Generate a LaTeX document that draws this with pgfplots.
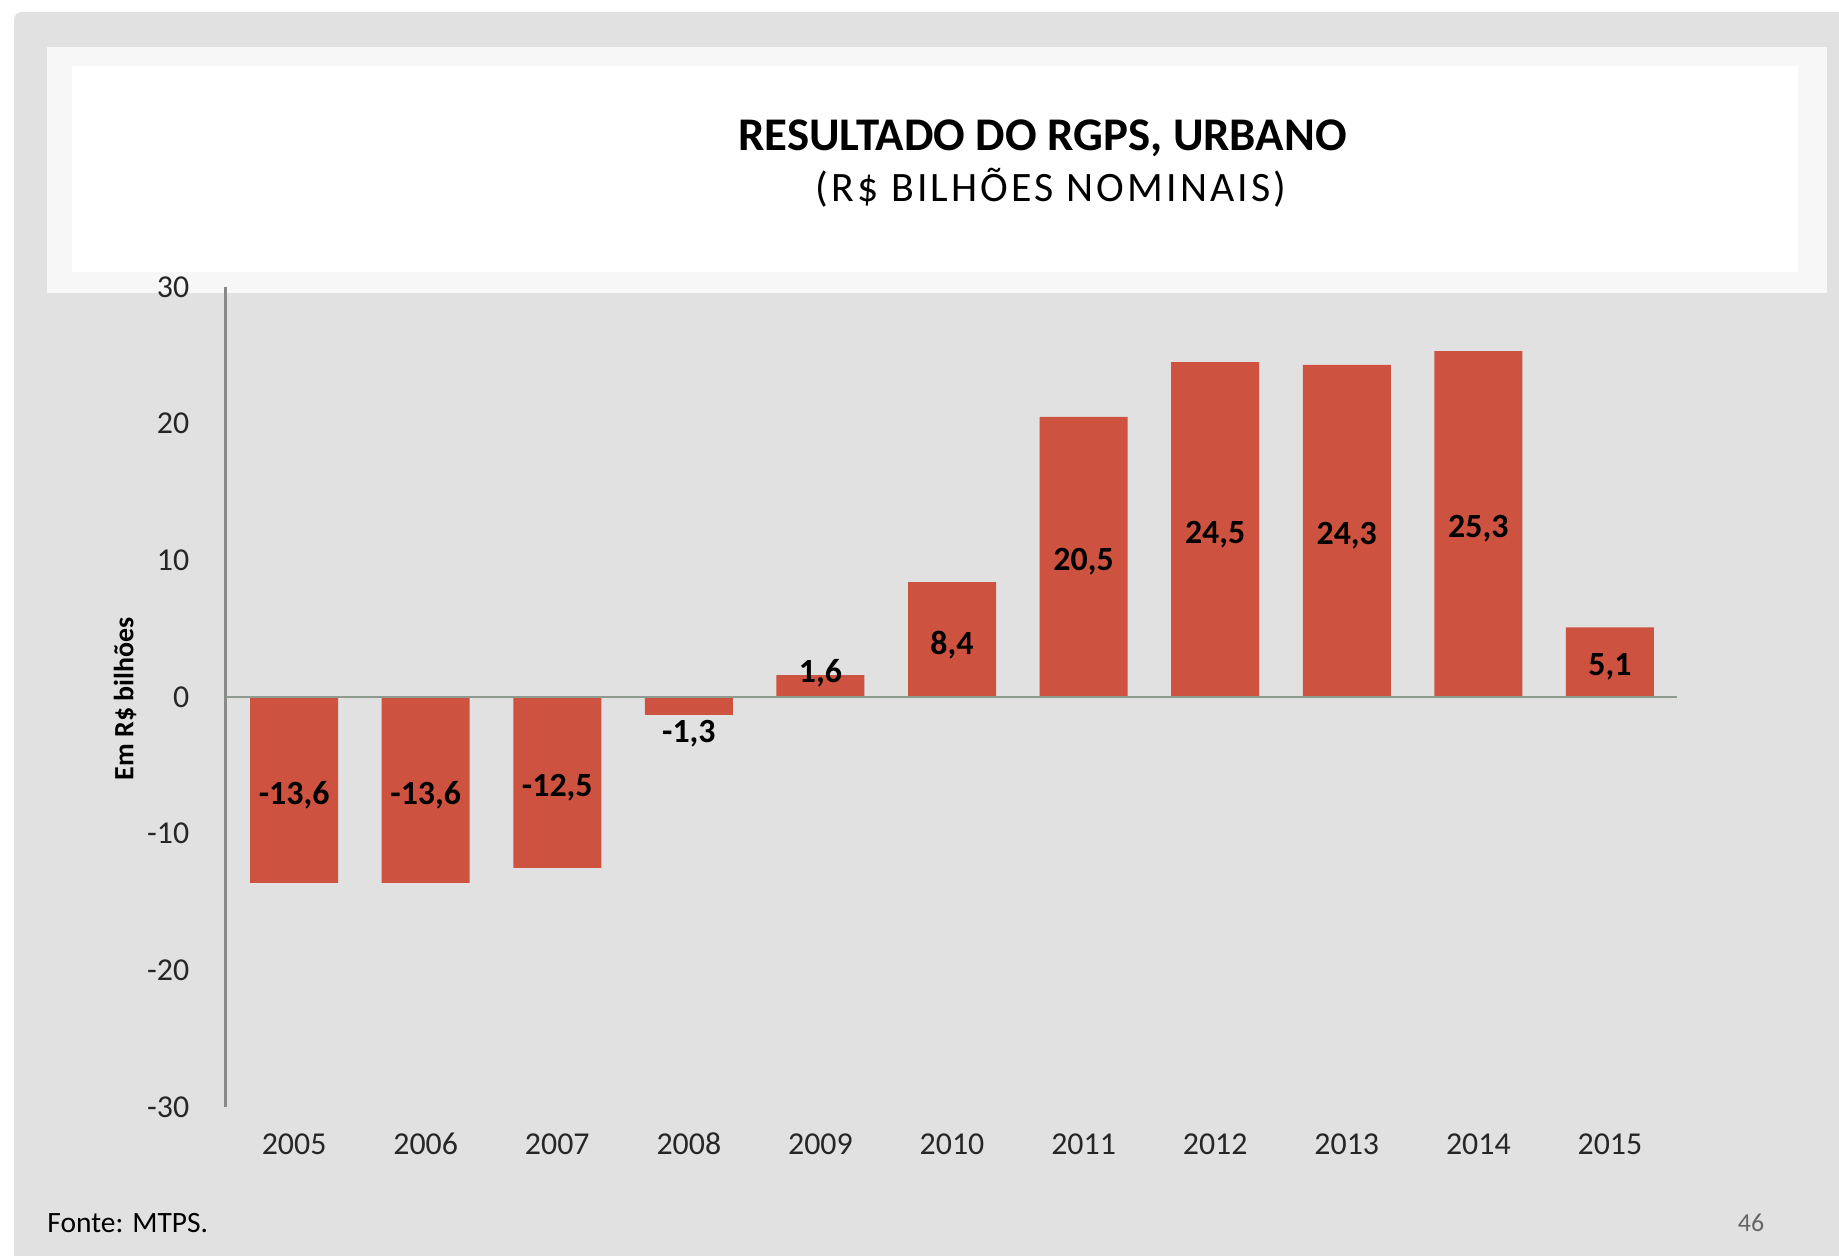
\documentclass[border=0pt]{standalone}
\usepackage{fontspec}
\setmainfont{Carlito}
\usepackage{pgfplots}
\pgfplotsset{compat=1.18}
\definecolor{barred}{HTML}{CD5340}
\definecolor{panel}{HTML}{E1E1E1}
\definecolor{band}{HTML}{F7F7F7}
\definecolor{axisgray}{HTML}{888888}
\definecolor{zerogray}{HTML}{8E9A90}
\begin{document}
\begin{tikzpicture}
\fill[white] (0bp,0bp) rectangle (919.5bp,628bp);
\fill[panel, rounded corners=4bp] (7bp,-20bp) rectangle (940bp,622bp);
\fill[band] (23.5bp,481.5bp) rectangle (913.5bp,604.5bp);
\fill[white] (36bp,492bp) rectangle (899bp,595bp);
\node[anchor=base, inner sep=0pt, font=\fontsize{23.5}{28}\selectfont\bfseries] at (521.25bp,552.5bp) {RESULTADO DO RGPS, URBANO};
\node[anchor=base, inner sep=0pt, font=\fontsize{21}{25}\selectfont\addfontfeature{LetterSpace=7.5}] at (525.5bp,527bp) {(R\$ BILHÕES NOMINAIS)};
\begin{axis}[
  at={(112.85bp,74.5bp)}, anchor=south west,
  scale only axis, width=725.65bp, height=410bp,
  xmin=-0.52, xmax=10.51, ymin=-30, ymax=30,
  axis lines*=left,
  x axis line style={draw=none},
  y axis line style={draw=axisgray, line width=1.5bp},
  major tick length=0pt,
  xtick={0,1,2,3,4,5,6,7,8,9,10},
  xticklabels={2005,2006,2007,2008,2009,2010,2011,2012,2013,2014,2015},
  ytick={-30,-20,-10,0,10,20,30},
  yticklabels={-30,-20,-10,0,10,20,30},
  tick label style={font=\fontsize{16}{18}\selectfont, text=black!85},
  xticklabel style={anchor=base, yshift=-23.5bp},
  yticklabel style={anchor=east, inner sep=0pt, xshift=-18bp},
  clip=false,
]
\addplot[ybar, bar width=44bp, fill=barred, draw=none] coordinates {
  (0,-13.6) (1,-13.6) (2,-12.5) (3,-1.3) (4,1.6) (5,8.4)
  (6,20.5) (7,24.5) (8,24.3) (9,25.3) (10,5.1)
};
\draw[zerogray, line width=1.3bp] (axis cs:-0.52,0) -- (axis cs:10.51,0);
\addplot[draw=none, mark=none, nodes near coords, point meta=explicit symbolic,
  nodes near coords style={anchor=center, inner sep=0pt, yshift=-2.5bp, font=\fontsize{17}{20}\selectfont\bfseries, text=black}]
  coordinates {
  (0,-6.8) [-13{,}6] (1,-6.8) [-13{,}6] (2,-6.25) [-12{,}5] (3,-2.35) [-1{,}3]
  (4,2.1) [1{,}6] (5,4.2) [8{,}4] (6,10.25) [20{,}5] (7,12.25) [24{,}5]
  (8,12.15) [24{,}3] (9,12.65) [25{,}3] (10,2.55) [5{,}1]
};
\end{axis}
\node[rotate=90, font=\fontsize{14}{16}\selectfont\bfseries] at (62.5bp,278.5bp) {Em R\$ bilhões};
\node[anchor=west, inner sep=0pt, font=\fontsize{14.8}{17}\selectfont] at (23.5bp,16.5bp) {Fonte: MTPS.};
\node[font=\fontsize{13}{15}\selectfont, text=black!60] at (875.5bp,16.5bp) {46};
\pgfresetboundingbox
\useasboundingbox (0bp,0bp) rectangle (919.5bp,628bp);
\end{tikzpicture}
\end{document}
